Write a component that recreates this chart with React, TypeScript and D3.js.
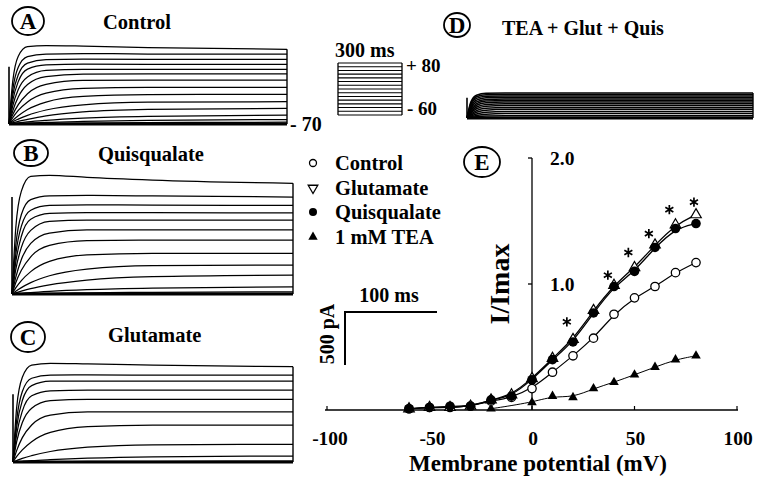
import React from 'react';
import * as d3 from 'd3';

// ---- Current traces: sample times (ms) and current (pA) per voltage step ----
const T_MS = [0, 4, 10, 20, 40, 80, 150, 300];

const controlTraces = [
  [0, 400, 640, 730, 740, 735, 720, 705],
  [0, 320, 535, 635, 660, 665, 660, 660],
  [0, 270, 465, 575, 608, 612, 610, 610],
  [0, 220, 400, 518, 558, 565, 563, 563],
  [0, 170, 325, 444, 506, 516, 516, 516],
  [0, 123, 255, 373, 448, 470, 472, 472],
  [0, 87, 183, 286, 374, 411, 415, 415],
  [0, 59, 128, 208, 291, 336, 346, 346],
  [0, 34, 78, 137, 207, 260, 277, 280],
  [0, 21, 46, 82, 132, 181, 206, 210],
  [0, 10, 25, 44, 77, 114, 138, 148],
  [0, 4, 10, 20, 35, 56, 73, 83],
  [0, 2, 4, 8, 15, 24, 34, 42],
  [0, 1, 1, 3, 5, 9, 13, 17],
];

const quisTraces = [
  [0, 620, 970, 1110, 1120, 1100, 1075, 1044],
  [0, 455, 750, 890, 925, 930, 925, 915],
  [0, 370, 640, 790, 835, 840, 839, 835],
  [0, 300, 545, 705, 760, 767, 767, 765],
  [0, 230, 440, 600, 685, 698, 698, 696],
  [0, 157, 326, 477, 574, 604, 604, 604],
  [0, 107, 224, 351, 458, 504, 509, 509],
  [0, 57, 126, 211, 307, 368, 383, 384],
  [0, 26, 60, 107, 172, 235, 268, 273],
  [0, 12, 27, 51, 87, 132, 164, 178],
  [0, 3, 7, 14, 25, 41, 56, 67],
  [0, 1, 2, 3, 6, 11, 16, 20],
];

const glutTraces = [
  [0, 520, 800, 915, 930, 925, 915, 899],
  [0, 400, 665, 790, 820, 822, 820, 820],
  [0, 335, 580, 720, 762, 764, 764, 764],
  [0, 265, 480, 625, 672, 679, 679, 679],
  [0, 195, 372, 508, 580, 591, 591, 591],
  [0, 110, 230, 349, 442, 472, 474, 474],
  [0, 52, 115, 192, 279, 334, 348, 349],
  [0, 14, 34, 60, 99, 140, 162, 167],
  [0, 3, 7, 13, 22, 36, 49, 56],
  [0, 0, 1, 1, 3, 5, 7, 9],
];

const teaMixTraces = [
  [0, 150, 215, 234, 236, 236, 236, 236],
  [0, 135, 200, 220, 222, 222, 222, 222],
  [0, 120, 185, 205, 208, 208, 208, 208],
  [0, 105, 168, 190, 194, 194, 194, 194],
  [0, 92, 152, 175, 180, 180, 180, 180],
  [0, 80, 135, 160, 165, 165, 165, 165],
  [0, 68, 120, 144, 150, 150, 150, 150],
  [0, 56, 104, 128, 135, 135, 135, 135],
  [0, 45, 87, 110, 118, 118, 118, 118],
  [0, 35, 70, 92, 100, 100, 100, 100],
  [0, 26, 54, 74, 82, 82, 82, 82],
  [0, 18, 38, 54, 62, 62, 62, 62],
  [0, 11, 24, 36, 42, 42, 42, 42],
  [0, 5, 11, 18, 22, 22, 22, 22],
];

// voltage protocol steps (mV)
const protocolSteps = [-60, -50, -40, -30, -20, -10, 0, 10, 20, 30, 40, 50, 60, 70, 80];

// ---- I-V data (panel E) ----
const ivVoltages = [-60, -50, -40, -30, -20, -10, 0, 10, 20, 30, 40, 50, 60, 70, 80];
const ivControl = [0.01, 0.02, 0.02, 0.03, 0.07, 0.1, 0.17, 0.3, 0.43, 0.57, 0.76, 0.89, 0.98, 1.09, 1.17];
const ivGlut = [0.01, 0.02, 0.02, 0.03, 0.08, 0.12, 0.25, 0.41, 0.56, 0.79, 0.99, 1.13, 1.31, 1.47, 1.55];
const ivQuis = [0.01, 0.02, 0.03, 0.03, 0.08, 0.11, 0.24, 0.4, 0.54, 0.77, 0.98, 1.1, 1.29, 1.44, 1.48];
const teaVoltages = [-20, 0, 10, 20, 30, 40, 50, 60, 70, 80];
const ivTea = [0.01, 0.06, 0.11, 0.1, 0.17, 0.22, 0.28, 0.34, 0.4, 0.43];
const starVoltages = [17, 37, 47, 57, 67, 79];
const starValues = [0.7, 1.07, 1.25, 1.4, 1.59, 1.65];

const xTicks = [-100, -50, 0, 50, 100];
const yTicks = [1.0, 2.0];
const legendLabels = ['Control', 'Glutamate', 'Quisqualate', '1 mM TEA'];

const FONT = '"Liberation Serif", "Times New Roman", serif';

type PanelProps = {
  traces: number[][];
  x0: number;
  x1: number;
  baseline: number;
  spike: number;
  sw?: number;
};

function TracePanel({ traces, x0, x1, baseline, spike, sw = 1.25 }: PanelProps) {
  const xs = d3.scaleLinear().domain([0, 300]).range([x0, x1]);
  const ys = d3.scaleLinear().domain([0, 1000]).range([baseline, baseline - 106]);
  const line = d3
    .line<number>()
    .x((_, i) => xs(T_MS[i]))
    .y((d) => ys(d))
    .curve(d3.curveMonotoneX);
  const last = traces[0][traces[0].length - 1];
  return (
    <g>
      {traces.map((t, i) => (
        <path key={i} d={line(t) || ''} fill="none" stroke="#000" strokeWidth={sw} />
      ))}
      <line x1={x0} x2={x1} y1={baseline} y2={baseline} stroke="#000" strokeWidth={2.8} />
      <line x1={x0} x2={x0} y1={baseline} y2={ys(spike)} stroke="#000" strokeWidth={1.6} />
      <line x1={x1} x2={x1} y1={ys(last)} y2={baseline} stroke="#000" strokeWidth={1.4} />
    </g>
  );
}

function Circled({ cx, cy, rx, ry, label }: { cx: number; cy: number; rx: number; ry: number; label: string }) {
  return (
    <g>
      <ellipse cx={cx} cy={cy} rx={rx} ry={ry} fill="none" stroke="#000" strokeWidth={1.8} />
      <text x={cx} y={cy + 8} textAnchor="middle" fontFamily={FONT} fontWeight="bold" fontSize={23}>
        {label}
      </text>
    </g>
  );
}

export default function App() {
  // Panel E scales
  const xE = d3.scaleLinear().domain([-100, 100]).range([327, 737]);
  const yE = d3.scaleLinear().domain([0, 2]).range([410, 158]);
  const ivLine = d3
    .line<[number, number]>()
    .x((d) => xE(d[0]))
    .y((d) => yE(d[1]))
    .curve(d3.curveBasis);
  const pairs = (xs: number[], ys: number[]) => xs.map((x, i) => [x, ys[i]] as [number, number]);

  const tri = d3.symbol().type(d3.symbolTriangle);
  const star = d3.symbol().type(d3.symbolAsterisk).size(60)();

  // protocol box
  const vProt = d3.scaleLinear().domain([-60, 80]).range([115, 63]);

  const legendY = [163, 188, 212, 237];

  return (
    <svg
      width={764}
      height={494}
      style={{ position: 'absolute', left: 0, top: 0, background: '#fff' }}
      fontFamily={FONT}
    >
      <rect x={0} y={0} width={764} height={494} fill="#fff" />

      {/* Panel A */}
      <Circled cx={28} cy={21} rx={16} ry={14} label="A" />
      <text x={103} y={29} fontWeight="bold" fontSize={20.5}>Control</text>
      <TracePanel traces={controlTraces} x0={9} x1={287} baseline={124} spike={540} />
      <text x={290} y={131} fontWeight="bold" fontSize={20}>- 70</text>

      {/* Protocol */}
      <text x={335} y={57} fontWeight="bold" fontSize={20}>300 ms</text>
      {protocolSteps.map((v) => (
        <line key={v} x1={338} x2={402} y1={vProt(v)} y2={vProt(v)} stroke="#000" strokeWidth={1.1} />
      ))}
      <line x1={338} x2={338} y1={vProt(80)} y2={vProt(-60)} stroke="#000" strokeWidth={1.3} />
      <line x1={402} x2={402} y1={vProt(80)} y2={vProt(-60)} stroke="#000" strokeWidth={1.3} />
      <text x={406} y={72} fontWeight="bold" fontSize={19}>+ 80</text>
      <text x={407} y={115} fontWeight="bold" fontSize={19}>- 60</text>

      {/* Panel D */}
      <Circled cx={457} cy={25} rx={13} ry={12} label="D" />
      <text x={502} y={35} fontWeight="bold" fontSize={20}>TEA + Glut + Quis</text>
      <TracePanel traces={teaMixTraces} x0={467} x1={753} baseline={118} spike={190} sw={1.5} />

      {/* Panel B */}
      <Circled cx={31} cy={153} rx={17} ry={13} label="B" />
      <text x={98} y={161} fontWeight="bold" fontSize={20.5}>Quisqualate</text>
      <TracePanel traces={quisTraces} x0={12} x1={293} baseline={294} spike={915} />

      {/* Panel C */}
      <Circled cx={28} cy={337} rx={17} ry={15} label="C" />
      <text x={108} y={342} fontWeight="bold" fontSize={20.5}>Glutamate</text>
      <TracePanel traces={glutTraces} x0={13} x1={293} baseline={462} spike={640} />

      {/* Scale bar */}
      <text x={389} y={302} textAnchor="middle" fontWeight="bold" fontSize={20}>100 ms</text>
      <polyline points="437,312 345,312 345,365" fill="none" stroke="#000" strokeWidth={2} />
      <text
        transform="translate(334,334) rotate(-90)"
        textAnchor="middle"
        fontWeight="bold"
        fontSize={20}
      >
        500 pA
      </text>

      {/* Legend */}
      {legendLabels.map((l, i) => (
        <text key={l} x={335} y={legendY[i] + 7} fontWeight="bold" fontSize={20.5}>{l}</text>
      ))}
      <circle cx={313} cy={legendY[0]} r={3.5} fill="#fff" stroke="#000" strokeWidth={1.3} />
      <path d={tri.size(40)() || ''} transform={`translate(313,${legendY[1]}) rotate(180)`} fill="#fff" stroke="#000" strokeWidth={1.3} />
      <circle cx={313} cy={legendY[2]} r={4} fill="#000" />
      <path d={tri.size(38)() || ''} transform={`translate(313,${legendY[3]})`} fill="#000" />

      {/* Panel E */}
      <Circled cx={482} cy={162} rx={18} ry={15} label="E" />
      <line x1={325} x2={738} y1={yE(0)} y2={yE(0)} stroke="#000" strokeWidth={1.3} />
      {xTicks.map((t) => (
        <g key={t}>
          <line x1={xE(t)} x2={xE(t)} y1={yE(0)} y2={yE(0) - 4} stroke="#000" strokeWidth={1.2} />
          <text x={xE(t) + (t < 0 ? 3 : 1)} y={445} textAnchor="middle" fontWeight="bold" fontSize={19.5}>
            {t}
          </text>
        </g>
      ))}
      <line x1={xE(0)} x2={xE(0)} y1={yE(2)} y2={yE(0)} stroke="#000" strokeWidth={1.3} />
      {yTicks.map((t) => (
        <g key={t}>
          <line x1={xE(0) - 4} x2={xE(0)} y1={yE(t)} y2={yE(t)} stroke="#000" strokeWidth={1.3} />
          <text x={550} y={yE(t) + 7} fontWeight="bold" fontSize={19.5}>{t.toFixed(1)}</text>
        </g>
      ))}
      <text transform="translate(509,284) rotate(-90)" textAnchor="middle" fontWeight="bold" fontSize={28}>
        I/Imax
      </text>
      <text x={538} y={471} textAnchor="middle" fontWeight="bold" fontSize={23}>
        Membrane potential (mV)
      </text>

      {/* fitted lines */}
      <path d={ivLine(pairs(teaVoltages, ivTea)) || ''} fill="none" stroke="#000" strokeWidth={1} />
      <path d={ivLine(pairs(ivVoltages, ivControl)) || ''} fill="none" stroke="#000" strokeWidth={1.2} />
      <path d={ivLine(pairs(ivVoltages, ivGlut)) || ''} fill="none" stroke="#000" strokeWidth={1.3} />
      <path d={ivLine(pairs(ivVoltages, ivQuis)) || ''} fill="none" stroke="#000" strokeWidth={1.3} />

      {/* markers */}
      {teaVoltages.map((v, i) => (
        <path key={'t' + v} d={tri.size(40)() || ''} transform={`translate(${xE(v)},${yE(ivTea[i])})`} fill="#000" />
      ))}
      {ivVoltages.map((v, i) => (
        <circle key={'c' + v} cx={xE(v)} cy={yE(ivControl[i])} r={4.2} fill="#fff" stroke="#000" strokeWidth={1.3} />
      ))}
      {ivVoltages.map((v, i) => (
        <path key={'g' + v} d={tri.size(48)() || ''} transform={`translate(${xE(v)},${yE(ivGlut[i])})`} fill="#fff" stroke="#000" strokeWidth={1.2} />
      ))}
      {ivVoltages.map((v, i) => (
        <circle key={'q' + v} cx={xE(v)} cy={yE(ivQuis[i])} r={4.8} fill="#000" />
      ))}
      {starVoltages.map((v, i) => (
        <path key={'s' + v} d={star || ''} transform={`translate(${xE(v)},${yE(starValues[i])})`} fill="none" stroke="#000" strokeWidth={1.7} />
      ))}
    </svg>
  );
}
